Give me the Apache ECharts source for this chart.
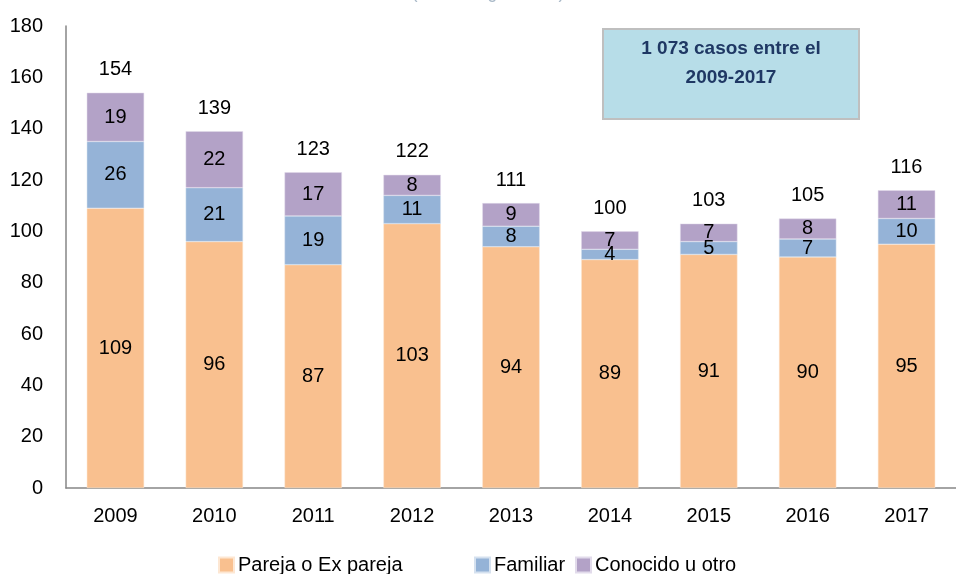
<!DOCTYPE html>
<html><head><meta charset="utf-8">
<script src="https://cdn.jsdelivr.net/npm/echarts@6/dist/echarts.min.js"></script>
<style>html,body{margin:0;padding:0;background:#fff}#c{width:956px;height:574px}</style>
</head><body><div id="c"></div>
<script>
const years = ['2009','2010','2011','2012','2013','2014','2015','2016','2017'];
const pareja = [109,96,87,103,94,89,91,90,95];
const familiar = [26,21,19,11,8,4,5,7,10];
const conocido = [19,22,17,8,9,7,7,8,11];
const totals = [154,139,123,122,111,100,103,105,116];
const yTicks = [0,20,40,60,80,100,120,140,160,180];

const F = '"Liberation Sans", Arial, sans-serif';
const FS = 20;
const chart = echarts.init(document.getElementById('c'));
const inLabel = {show:true, position:'inside', color:'#000', fontSize:FS, fontFamily:F};
chart.setOption({
  animation:false,
  grid:{left:66, right:-13, top:26, bottom:86},
  xAxis:{type:'category', data:years,
    axisLine:{lineStyle:{color:'#868686', width:1.5}}, axisTick:{show:false},
    axisLabel:{color:'#000', fontSize:FS, fontFamily:F, margin:18}},
  yAxis:{type:'value', min:0, max:180, interval:20,
    axisLine:{show:true, lineStyle:{color:'#868686', width:1.5}}, axisTick:{show:false},
    splitLine:{show:false},
    axisLabel:{color:'#000', fontSize:FS, fontFamily:F, margin:23,
      formatter:v=>yTicks.includes(v)?String(v):''}},
  legend:[
    {data:['Pareja o Ex pareja'], left:218, top:555},
    {data:['Familiar'], left:474, top:555},
    {data:['Conocido u otro'], left:575, top:555}
  ].map(l=>Object.assign(l,{itemWidth:15,itemHeight:15,icon:'rect',itemGap:4,padding:0,
      textStyle:{fontSize:FS,fontFamily:F,color:'#000',padding:[0,0,0,-1]}})),
  series:[
    {name:'Pareja o Ex pareja', type:'bar', stack:'a', barWidth:'58%', data:pareja,
      itemStyle:{color:'#F9C08F', borderColor:'#fde7d3', borderWidth:0.5}, label:inLabel},
    {name:'Familiar', type:'bar', stack:'a', data:familiar,
      itemStyle:{color:'#95B3D7', borderColor:'#d5e1ef', borderWidth:0.5}, label:inLabel},
    {name:'Conocido u otro', type:'bar', stack:'a', data:conocido,
      itemStyle:{color:'#B3A2C7', borderColor:'#e2dbeb', borderWidth:0.5}, label:inLabel},
    {name:'Total', type:'bar', barGap:'-100%', barWidth:'58%', data:totals,
      itemStyle:{color:'rgba(0,0,0,0)'}, silent:true,
      label:{show:true, position:'top', distance:13, color:'#000', fontSize:FS, fontFamily:F}}
  ],
  graphic:[
    {type:'text', x:488, y:2, style:{text:'(Casos registrados)', fill:'#A9B9C8', fontSize:17.5, fontFamily:F, align:'center', verticalAlign:'bottom'}},
    {type:'rect', shape:{x:603, y:29, width:256, height:90},
      style:{fill:'#B7DDE8', stroke:'#BFBFBF', lineWidth:2}},
    {type:'text', x:731, y:49, style:{text:'1 073 casos entre el', fill:'#1F3864', fontSize:19, fontWeight:'bold', fontFamily:F, align:'center', verticalAlign:'middle'}},
    {type:'text', x:731, y:77.5, style:{text:'2009-2017', fill:'#1F3864', fontSize:19, fontWeight:'bold', fontFamily:F, align:'center', verticalAlign:'middle'}}
  ]
});
</script></body></html>
